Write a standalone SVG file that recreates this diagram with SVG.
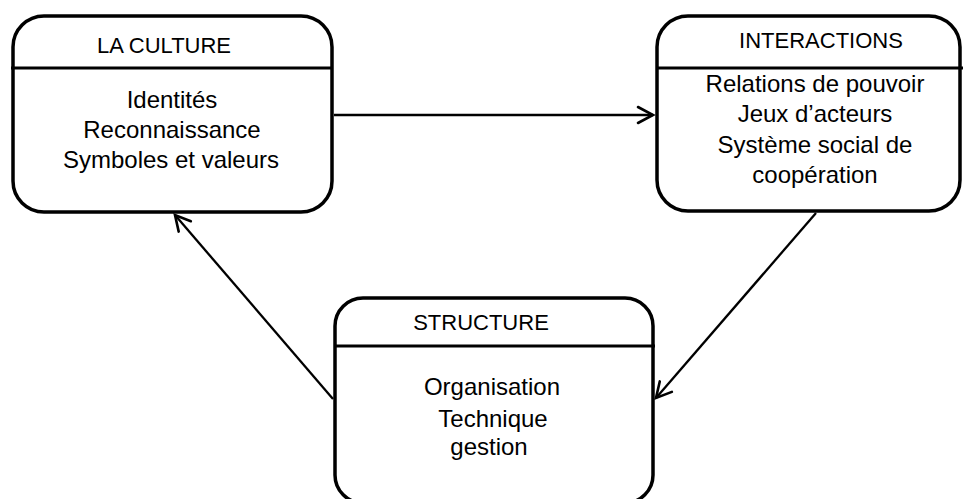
<svg xmlns="http://www.w3.org/2000/svg" width="963" height="499" viewBox="0 0 963 499">
  <style>
    .box { fill: #ffffff; stroke: #000000; stroke-width: 3.5; }
    .sep { stroke: #000000; stroke-width: 3.2; fill: none; }
    .title { font-family: "Liberation Sans", Arial, sans-serif; font-size: 22px; fill: #000000; text-anchor: middle; }
    .body { font-family: "Liberation Sans", Arial, sans-serif; font-size: 24px; fill: #000000; text-anchor: middle; }
    .edge { stroke: #000000; stroke-width: 2.3; fill: none; marker-end: url(#arrow); }
  </style>
  <defs>
    <marker id="arrow" markerUnits="userSpaceOnUse" markerWidth="24" markerHeight="24" viewBox="-20 -12 24 24" refX="0" refY="0" orient="auto">
      <path d="M-15,-8 L0,0 L-15,8" fill="none" stroke="#000000" stroke-width="2.6" stroke-linejoin="miter" stroke-linecap="round"/>
    </marker>
  </defs>
  <rect x="0" y="0" width="963" height="499" fill="#ffffff"/>

  <g id="node-culture">
    <rect class="box" x="13" y="16" width="319" height="196" rx="31" ry="31"/>
    <line class="sep" x1="11" y1="68" x2="332" y2="68"/>
    <text class="title" x="164" y="53">LA CULTURE</text>
    <text class="body" x="172" y="108">Identités</text>
    <text class="body" x="172" y="138">Reconnaissance</text>
    <text class="body" x="171" y="168">Symboles et valeurs</text>
  </g>

  <g id="node-interactions">
    <rect class="box" x="657" y="16" width="303" height="195" rx="31" ry="31"/>
    <line class="sep" x1="657" y1="68" x2="963" y2="68"/>
    <text class="title" x="821" y="48">INTERACTIONS</text>
    <text class="body" x="815" y="92">Relations de pouvoir</text>
    <text class="body" x="815" y="122">Jeux d’acteurs</text>
    <text class="body" x="815" y="153">Système social de</text>
    <text class="body" x="815" y="183">coopération</text>
  </g>

  <g id="node-structure">
    <rect class="box" x="335" y="298" width="318" height="205" rx="28" ry="28"/>
    <line class="sep" x1="335" y1="346" x2="655" y2="346"/>
    <text class="title" x="481" y="330">STRUCTURE</text>
    <text class="body" x="492" y="395">Organisation</text>
    <text class="body" x="493" y="427">Technique</text>
    <text class="body" x="489" y="455">gestion</text>
  </g>

  <g id="connectors">
    <line class="edge" x1="334" y1="115" x2="653" y2="115"/>
    <line class="edge" x1="816" y1="213" x2="656" y2="398"/>
    <line class="edge" x1="333" y1="399" x2="175" y2="215"/>
  </g>
</svg>
